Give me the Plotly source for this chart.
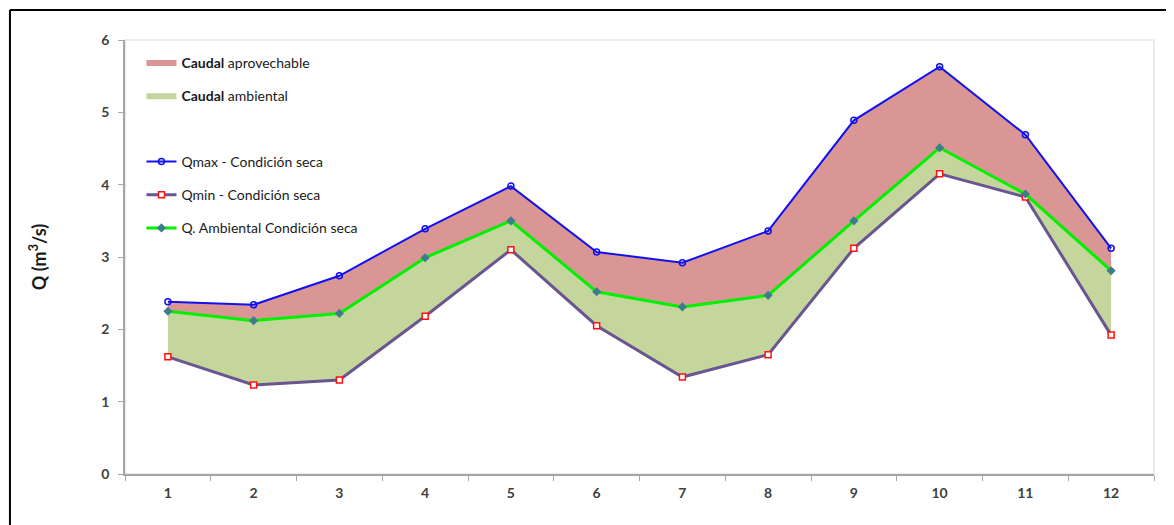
import plotly.graph_objects as go

months = ["1", "2", "3", "4", "5", "6", "7", "8", "9", "10", "11", "12"]
q_max = [2.38, 2.34, 2.74, 3.39, 3.98, 3.07, 2.92, 3.36, 4.89, 5.63, 4.69, 3.12]
q_amb = [2.25, 2.12, 2.22, 2.99, 3.50, 2.52, 2.31, 2.47, 3.50, 4.51, 3.87, 2.81]
q_min = [1.62, 1.23, 1.30, 2.18, 3.10, 2.05, 1.34, 1.65, 3.12, 4.15, 3.83, 1.92]
y_ticks = [0, 1, 2, 3, 4, 5, 6]

FONT = "Lato"
fig = go.Figure()

# fill base (Qmin), invisible
fig.add_trace(go.Scatter(x=months, y=q_min, mode="lines", line=dict(width=0, color="rgba(0,0,0,0)"),
                         showlegend=False, hoverinfo="skip"))
fig.add_trace(go.Scatter(x=months, y=q_amb, mode="lines", fill="tonexty", fillcolor="#C4D69C",
                         line=dict(width=0, color="#C4D69C"), name="<b>Caudal</b> ambiental",
                         legend="legend", legendrank=2, legendgroup="g2"))
fig.add_trace(go.Scatter(x=months, y=q_max, mode="lines", fill="tonexty", fillcolor="#D99694",
                         line=dict(width=0, color="#D99694"), name="<b>Caudal</b> aprovechable",
                         legend="legend", legendrank=1, legendgroup="g1"))

# lines
fig.add_trace(go.Scatter(x=months, y=q_max, mode="lines+markers", name="Qmax - Condición seca",
                         line=dict(color="#1010F0", width=2),
                         marker=dict(symbol="circle-open", size=6, color="#1010F0", line=dict(width=1.5)),
                         legend="legend2", legendrank=1, legendgroup="l1"))
fig.add_trace(go.Scatter(x=months, y=q_min, mode="lines+markers", name="Qmin - Condición seca",
                         line=dict(color="#6A5591", width=3),
                         marker=dict(symbol="square", size=6, color="white", line=dict(color="#FF1010", width=1.5)),
                         legend="legend2", legendrank=2, legendgroup="l2"))
fig.add_trace(go.Scatter(x=months, y=q_amb, mode="lines+markers", name="Q. Ambiental Condición seca",
                         line=dict(color="#00F000", width=3),
                         marker=dict(symbol="diamond", size=7, color="#3E7C8C", line=dict(width=0)),
                         legend="legend2", legendrank=3, legendgroup="l3"))

legend_common = dict(font=dict(family=FONT, size=14, color="#1A1A1A"), bgcolor="rgba(0,0,0,0)",
                     borderwidth=0, itemwidth=30, traceorder="grouped", tracegroupgap=12,
                     xanchor="left", yanchor="top")

fig.update_layout(
    width=1166, height=517,
    margin=dict(l=117, r=20, t=32, b=51),
    paper_bgcolor="white", plot_bgcolor="white",
    font=dict(family=FONT, size=14, color="#404040"),
    legend=dict(x=0.016, y=0.985, **legend_common),
    legend2=dict(x=0.016, y=0.756, **legend_common),
    xaxis=dict(type="category", range=[-0.5, 11.5], showgrid=False, zeroline=False,
               showline=True, linecolor="#A6A6A6", linewidth=1.5,
               ticks="outside", tickson="boundaries", ticklen=5, tickcolor="#A6A6A6",
               ticklabelstandoff=5,
               tickfont=dict(family=FONT, size=14, color="#404040", weight="bold")),
    yaxis=dict(range=[0, 6], tickvals=y_ticks, showgrid=False, zeroline=False,
               showline=True, linecolor="#A6A6A6", linewidth=1.5,
               ticks="outside", ticklen=5, tickcolor="#A6A6A6",
               ticklabelstandoff=6,
               tickfont=dict(family=FONT, size=14, color="#404040", weight="bold"),
               title=dict(text="Q (m<sup>3</sup>/s)", standoff=50,
                          font=dict(family=FONT, size=18, color="#1A1A1A", weight="bold"))),
    shapes=[
        dict(type="rect", xref="paper", yref="paper", x0=0, x1=1, y0=0, y1=1,
             line=dict(color="#E3E3E3", width=1.5), layer="below"),
        dict(type="line", xref="paper", yref="paper", x0=-0.1118, x1=1.1, y0=1.069, y1=1.069,
             line=dict(color="black", width=2), layer="below"),
        dict(type="line", xref="paper", yref="paper", x0=-0.1118, x1=-0.1118, y0=-0.3, y1=1.069,
             line=dict(color="black", width=2), layer="below"),
    ],
)

fig.write_html("out.html")
